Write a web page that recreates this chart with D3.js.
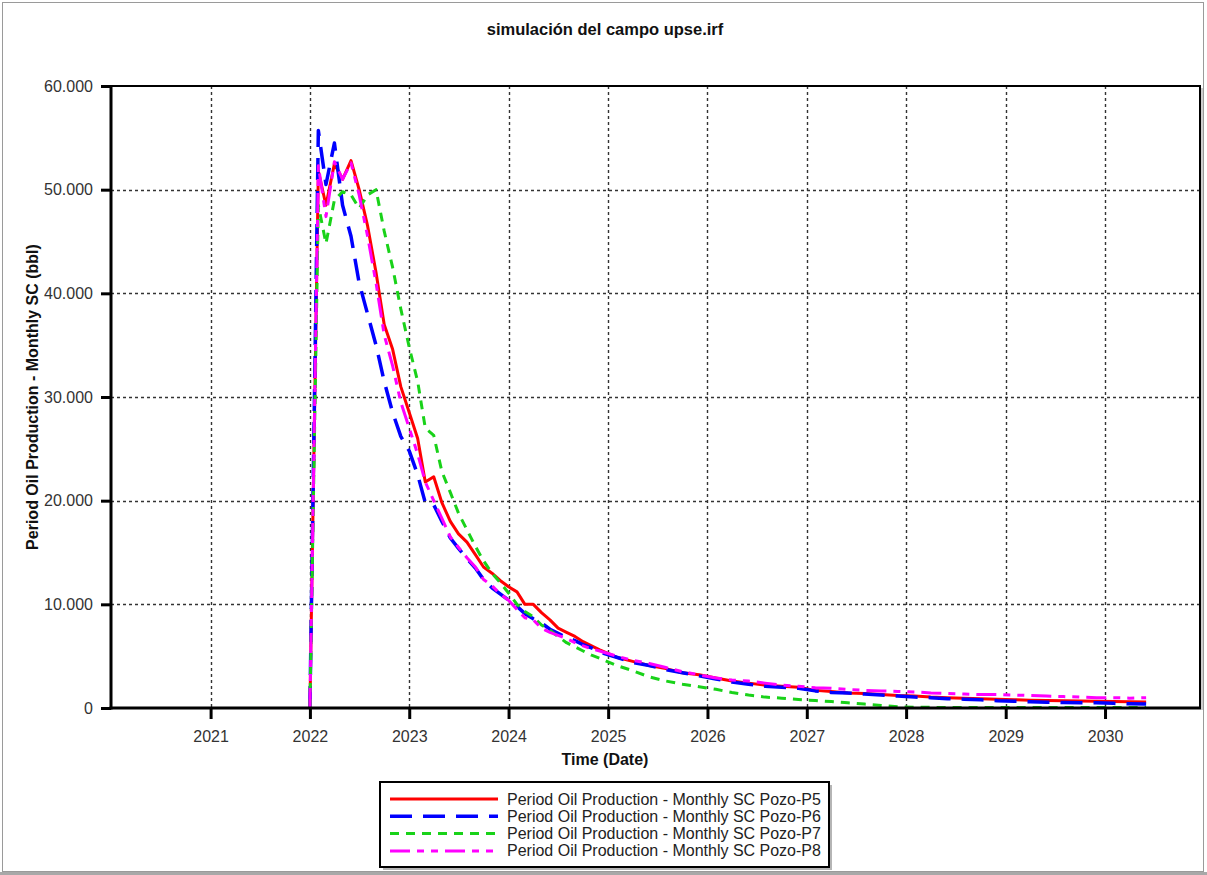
<!DOCTYPE html>
<html>
<head>
<meta charset="utf-8">
<script src="https://cdn.jsdelivr.net/npm/d3@7"></script>
<style>
  body { margin: 0; background: #fff; }
  svg { display: block; font-family: "Liberation Sans", Arial, sans-serif; }
</style>
</head>
<body>
<svg id="chart" width="1207" height="875"></svg>
<script>
// Simulation dates: monthly through 2024, every two months afterwards
const dates = [
  "2022-01","2022-02","2022-03","2022-04","2022-05","2022-06","2022-07","2022-08","2022-09","2022-10","2022-11","2022-12",
  "2023-01","2023-02","2023-03","2023-04","2023-05","2023-06","2023-07","2023-08","2023-09","2023-10","2023-11","2023-12",
  "2024-01","2024-02","2024-03","2024-04","2024-05","2024-06","2024-07","2024-08","2024-09","2024-10","2024-11","2024-12",
  "2025-02","2025-04","2025-06","2025-08","2025-10","2025-12",
  "2026-02","2026-04","2026-06","2026-08","2026-10","2026-12",
  "2027-02","2027-04","2027-06","2027-08","2027-10","2027-12",
  "2028-02","2028-04","2028-06","2028-08","2028-10","2028-12",
  "2029-02","2029-04","2029-06","2029-08","2029-10","2029-12",
  "2030-02","2030-04","2030-06"
];

// Period oil production, monthly SC (bbl) per well
const pozoP5 = [
  0,51800,48500,52500,51000,52800,50000,46500,42000,37000,34600,31000,
  28500,26000,21800,22300,19800,18000,16800,16000,14800,13600,13000,12300,
  11700,11200,10000,10000,9200,8500,7700,7300,6900,6400,6000,5600,
  4900,4500,4100,3800,3400,3200,
  2900,2600,2400,2200,2100,2000,
  1700,1600,1450,1400,1300,1200,
  1150,1050,1000,950,900,850,
  800,750,720,700,680,650,
  620,600,580
];
const pozoP6 = [
  0,55700,50500,54500,48500,45500,41000,38000,35000,31500,28500,26200,
  24800,22500,19800,19600,18000,16400,15400,14400,13500,12400,11600,11000,
  10400,9800,9100,8600,8200,7600,7200,6800,6500,6100,5800,5400,
  4900,4400,4100,3700,3400,3100,
  2800,2500,2300,2100,2000,1900,
  1650,1500,1450,1350,1250,1150,
  1050,1000,900,850,800,700,
  650,600,550,520,500,500,
  450,400,380
];
const pozoP7 = [
  0,48500,44800,49000,49800,49500,48200,49500,50000,46000,42500,38500,
  34800,31500,27000,26300,22800,20800,18800,17200,15600,14200,13000,12100,
  11100,10000,9300,8800,8000,7500,6900,6300,5900,5500,5100,4800,
  4100,3600,3000,2600,2300,2050,
  1800,1500,1250,1050,950,820,
  720,620,500,380,250,120,
  80,60,50,50,50,50,
  50,50,50,50,50,50,
  50,50,50
];
const pozoP8 = [
  0,52300,47400,52700,51000,52600,49500,45500,41000,36000,33000,29500,
  27000,24500,21800,20000,18300,16500,15500,14500,13600,12400,11800,11000,
  10400,9500,8700,8500,7700,7300,7000,6700,6300,6000,5700,5500,
  5000,4600,4300,3900,3500,3200,
  2900,2700,2600,2400,2200,2100,
  1950,1900,1800,1700,1650,1600,
  1550,1450,1400,1350,1300,1300,
  1250,1200,1150,1100,1050,1000,
  1000,950,1000
];

const seriesNames = [
  "Period Oil Production - Monthly SC Pozo-P5",
  "Period Oil Production - Monthly SC Pozo-P6",
  "Period Oil Production - Monthly SC Pozo-P7",
  "Period Oil Production - Monthly SC Pozo-P8"
];
const yTickValues = [0, 10000, 20000, 30000, 40000, 50000, 60000];
const xTickYears = [2021, 2022, 2023, 2024, 2025, 2026, 2027, 2028, 2029, 2030];

// Line styles per well
const styles = [
  { color: "#ff0000", width: 3, dash: null },
  { color: "#0000ff", width: 3.5, dash: "22,11" },
  { color: "#19d219", width: 3, dash: "9,7" },
  { color: "#ff00ff", width: 3, dash: "20,7,7,7,7,7" }
];

const parse = d3.timeParse("%Y-%m");
const seriesValues = [pozoP5, pozoP6, pozoP7, pozoP8];
const series = seriesValues.map((vals, i) => ({
  name: seriesNames[i],
  style: styles[i],
  points: dates.map((d, j) => ({ date: parse(d), value: vals[j] }))
}));

const svg = d3.select("#chart");
const W = 1207, H = 875;
const plot = { left: 111, right: 1200, top: 86, bottom: 708 };

// Outer frame
svg.append("rect").attr("x", 0).attr("y", 0).attr("width", W).attr("height", H).attr("fill", "#fff");
svg.append("rect").attr("x", 2.5).attr("y", 2.5).attr("width", 1201).attr("height", 869)
  .attr("fill", "none").attr("stroke", "#9a9a9a").attr("stroke-width", 1);
svg.append("rect").attr("x", 0).attr("y", 872).attr("width", W).attr("height", 3).attr("fill", "#a8a8a8");

const x = d3.scaleTime()
  .domain([new Date(2020, 0, 1), new Date(2030, 11, 16)])
  .range([plot.left, plot.right]);
const y = d3.scaleLinear()
  .domain([0, 60000])
  .range([plot.bottom, plot.top]);

const fmt = d3.formatLocale({ decimal: ",", thousands: ".", grouping: [3], currency: ["", ""] }).format(",d");

// Grid
const grid = svg.append("g").attr("stroke", "#333").attr("stroke-width", 1.4).attr("stroke-dasharray", "3,3");
grid.selectAll("line.v").data(xTickYears).join("line")
  .attr("x1", d => Math.round(x(new Date(d, 0, 1))) + 0.5)
  .attr("x2", d => Math.round(x(new Date(d, 0, 1))) + 0.5)
  .attr("y1", plot.top).attr("y2", plot.bottom);
grid.selectAll("line.h").data(yTickValues.filter(v => v > 0 && v < 60000)).join("line")
  .attr("y1", d => Math.round(y(d)) + 0.5).attr("y2", d => Math.round(y(d)) + 0.5)
  .attr("x1", plot.left).attr("x2", plot.right);

// Series lines
const line = d3.line().x(d => x(d.date)).y(d => y(d.value));
svg.append("clipPath").attr("id", "plotClip").append("rect")
  .attr("x", plot.left).attr("y", plot.top).attr("width", plot.right - plot.left).attr("height", plot.bottom - plot.top);
const lines = svg.append("g").attr("clip-path", "url(#plotClip)");
series.forEach(s => {
  lines.append("path")
    .attr("d", line(s.points))
    .attr("fill", "none")
    .attr("stroke", s.style.color)
    .attr("stroke-width", s.style.width)
    .attr("stroke-linejoin", "round")
    .attr("stroke-dasharray", s.style.dash);
});

// Plot frame (top/right), with light shadow
svg.append("line").attr("x1", plot.right + 2).attr("x2", plot.right + 2).attr("y1", plot.top + 2).attr("y2", plot.bottom + 2)
  .attr("stroke", "#bdbdbd").attr("stroke-width", 1.5);
svg.append("path")
  .attr("d", `M${plot.left},${plot.top}H${plot.right}V${plot.bottom}`)
  .attr("fill", "none").attr("stroke", "#000").attr("stroke-width", 2);

// Axes
const yAxis = d3.axisLeft(y).tickValues(yTickValues).tickFormat(fmt).tickSize(10).tickPadding(8);
const yg = svg.append("g").attr("transform", `translate(${plot.left},0)`).call(yAxis);
const xAxis = d3.axisBottom(x).tickValues(xTickYears.map(v => new Date(v, 0, 1)))
  .tickFormat(d3.timeFormat("%Y")).tickSize(11).tickPadding(6);
const xg = svg.append("g").attr("transform", `translate(0,${plot.bottom})`).call(xAxis);
[yg, xg].forEach(g => {
  g.select(".domain").attr("stroke", "#000").attr("stroke-width", 3);
  g.selectAll(".tick line").attr("stroke", "#000").attr("stroke-width", 3);
  g.selectAll(".tick text").attr("fill", "#333").style("font-size", "16px")
    .style("font-family", "'Liberation Sans', Arial, sans-serif");
});
yg.select(".domain").attr("d", `M0,${plot.bottom + 1.5}V${plot.top - 1}`);
xg.select(".domain").attr("d", `M${plot.left - 1.5},0H${plot.right + 1}`);
xg.selectAll(".tick text").attr("dy", "1.05em");

// Titles
svg.append("text").attr("x", 605).attr("y", 35).attr("text-anchor", "middle")
  .style("font-size", "16.5px").style("font-weight", "bold").attr("fill", "#111")
  .text("simulación del campo upse.irf");
svg.append("text").attr("x", 605).attr("y", 765).attr("text-anchor", "middle")
  .style("font-size", "16px").style("font-weight", "bold").attr("fill", "#111")
  .text("Time (Date)");
svg.append("text").attr("transform", `translate(38,${(plot.top + plot.bottom) / 2}) rotate(-90)`)
  .attr("text-anchor", "middle")
  .style("font-size", "16px").style("font-weight", "bold").attr("fill", "#111")
  .text("Period Oil Production - Monthly SC (bbl)");

// Legend
const lg = { x: 380, y: 782, w: 449, h: 85 };
svg.append("rect").attr("x", lg.x + 3).attr("y", lg.y + 3).attr("width", lg.w).attr("height", lg.h).attr("fill", "#b5b5b5");
svg.append("rect").attr("x", lg.x).attr("y", lg.y).attr("width", lg.w).attr("height", lg.h)
  .attr("fill", "#fff").attr("stroke", "#000").attr("stroke-width", 2);
const legendRows = svg.append("g").selectAll("g").data(series).join("g")
  .attr("transform", (d, i) => `translate(${lg.x},${lg.y + 17 + i * 17.3})`);
legendRows.append("line").attr("x1", 10).attr("x2", 118).attr("y1", 0).attr("y2", 0)
  .attr("stroke", d => d.style.color).attr("stroke-width", d => d.style.width)
  .attr("stroke-dasharray", d => d.style.dash);
legendRows.append("text").attr("x", 127).attr("y", 5.5)
  .style("font-size", "16px").attr("fill", "#222").text(d => d.name);
</script>
</body>
</html>
